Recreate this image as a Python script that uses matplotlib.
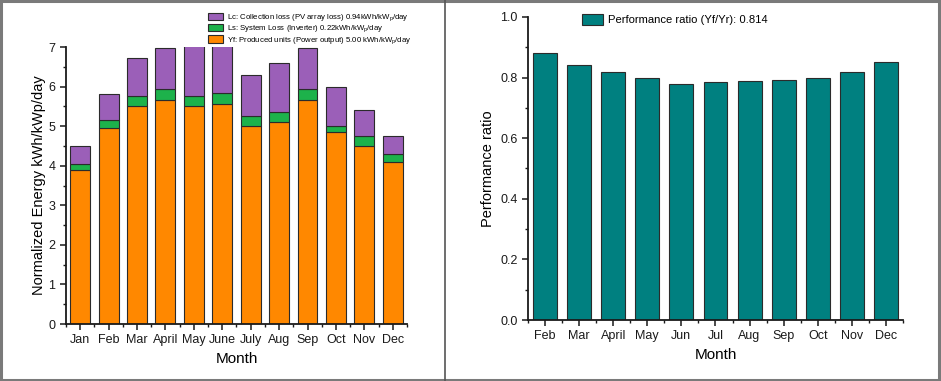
import numpy as np
import matplotlib.pyplot as plt
from matplotlib.patches import Rectangle
from matplotlib.lines import Line2D
from matplotlib.ticker import MultipleLocator, FixedLocator

plt.rcParams['font.family'] = ['Liberation Sans', 'DejaVu Sans']
plt.rcParams['mathtext.fontset'] = 'custom'
plt.rcParams['mathtext.rm'] = 'Liberation Sans'
plt.rcParams['mathtext.it'] = 'Liberation Sans'

# left panel: normalized energy (stacked)
months_l = ['Jan', 'Feb', 'Mar', 'April', 'May', 'June', 'July', 'Aug', 'Sep', 'Oct', 'Nov', 'Dec']
yf = [3.90, 4.95, 5.50, 5.65, 5.50, 5.55, 5.00, 5.10, 5.65, 4.85, 4.50, 4.10]
ls = [0.15, 0.20, 0.25, 0.30, 0.25, 0.30, 0.25, 0.27, 0.30, 0.15, 0.25, 0.20]
lc = [0.45, 0.65, 0.97, 1.02, 1.45, 1.30, 1.05, 1.23, 1.02, 1.00, 0.65, 0.45]

# right panel: performance ratio
months_r = ['Feb', 'Mar', 'April', 'May', 'Jun', 'Jul', 'Aug', 'Sep', 'Oct', 'Nov', 'Dec']
pr = [0.88, 0.84, 0.82, 0.80, 0.78, 0.785, 0.79, 0.792, 0.80, 0.82, 0.85]

c_orange = '#ff8800'
c_green = '#1db24b'
c_purple = '#9b5fb8'
c_teal = '#008080'
edge = '#2b2b2b'

fig = plt.figure(figsize=(9.41, 3.81), dpi=100)

def style_axes(ax, n):
    for s in ['top', 'right']:
        ax.spines[s].set_visible(False)
    for s in ['left', 'bottom']:
        ax.spines[s].set_linewidth(1.3)
        ax.spines[s].set_color('#1a1a1a')
    ax.tick_params(which='both', direction='out', colors='#1a1a1a', labelsize=9)
    ax.tick_params(which='major', length=4, width=1.1)
    ax.tick_params(which='minor', length=2.5, width=1.0)
    ax.xaxis.set_minor_locator(FixedLocator(np.arange(n + 1) - 0.5))

# ---- left
ax1 = fig.add_axes([0.0701, 0.1496, 0.3624, 0.727])
x1 = np.arange(len(months_l))
b_yf = ax1.bar(x1, yf, 0.7, color=c_orange, edgecolor=edge, linewidth=0.8,
               label='Yf: Produced units (Power output) 5.00 kWh/kW$_p$/day')
b_ls = ax1.bar(x1, ls, 0.7, bottom=yf, color=c_green, edgecolor=edge, linewidth=0.8,
               label='Ls: System Loss (Inverter) 0.22kWh/kW$_p$/day')
b_lc = ax1.bar(x1, lc, 0.7, bottom=np.array(yf) + np.array(ls), color=c_purple,
               edgecolor=edge, linewidth=0.8,
               label='Lc: Collection loss (PV array loss) 0.94kWh/kW$_p$/day')
ax1.set_xlim(-0.5, len(months_l) - 0.5)
ax1.set_ylim(0, 7)
ax1.set_xticks(x1)
ax1.set_xticklabels(months_l)
ax1.yaxis.set_major_locator(MultipleLocator(1))
ax1.yaxis.set_minor_locator(MultipleLocator(0.5))
style_axes(ax1, len(months_l))
ax1.set_xlabel('Month', fontsize=11)
ax1.set_ylabel('Normalized Energy kWh/kWp/day', fontsize=10.5, labelpad=2)
ax1.legend(handles=[b_lc, b_ls, b_yf], loc='upper left',
           bbox_to_anchor=(0.221, 0.968), bbox_transform=fig.transFigure,
           frameon=False, fontsize=5.6, handlelength=1.95, handleheight=1.05,
           labelspacing=0.08, handletextpad=0.55, borderpad=0, borderaxespad=0)

# ---- right
ax2 = fig.add_axes([0.5611, 0.1601, 0.3985, 0.7953])
x2 = np.arange(len(months_r))
b_pr = ax2.bar(x2, pr, 0.7, color=c_teal, edgecolor=edge, linewidth=0.8,
               label='Performance ratio (Yf/Yr): 0.814')
ax2.set_xlim(-0.5, len(months_r) - 0.5)
ax2.set_ylim(0, 1.0)
ax2.set_xticks(x2)
ax2.set_xticklabels(months_r)
ax2.yaxis.set_major_locator(MultipleLocator(0.2))
ax2.yaxis.set_minor_locator(MultipleLocator(0.1))
ax2.yaxis.set_major_formatter(plt.FormatStrFormatter('%.1f'))
style_axes(ax2, len(months_r))
ax2.set_xlabel('Month', fontsize=11)
ax2.set_ylabel('Performance ratio', fontsize=10.5)
ax2.legend(handles=[b_pr], loc='upper left',
           bbox_to_anchor=(0.618, 0.963), bbox_transform=fig.transFigure,
           frameon=False, fontsize=8.1, handlelength=1.87, handleheight=1.07,
           handletextpad=0.5, borderpad=0, borderaxespad=0)

# outer frame and divider
fig.add_artist(Rectangle((0.001, 0.002), 0.997, 0.995, transform=fig.transFigure,
                         fill=False, edgecolor='#7a7a7a', linewidth=2.2))
fig.add_artist(Line2D([445 / 941, 445 / 941], [0, 1], transform=fig.transFigure,
                      color='#555555', linewidth=1.2))

plt.savefig('out.png', dpi=100)
